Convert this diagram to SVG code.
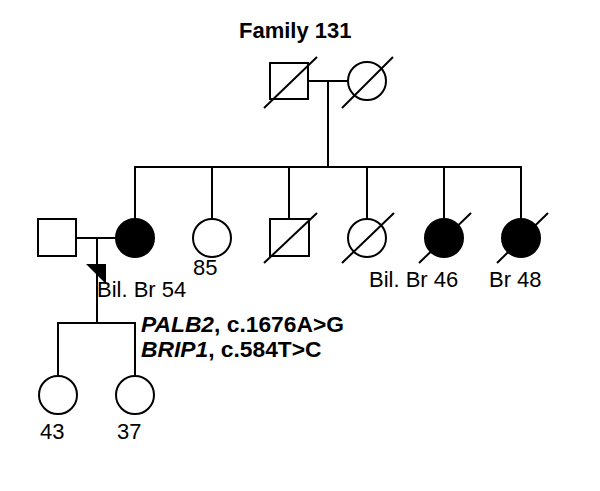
<svg xmlns="http://www.w3.org/2000/svg" width="600" height="491" viewBox="0 0 600 491">
<style>
.s{fill:#fff;stroke:#000;stroke-width:2}
.a{fill:#000;stroke:#000;stroke-width:2}
.l{stroke:#000;stroke-width:2;fill:none}
.t{font-family:"Liberation Sans",Arial,sans-serif;font-size:22px;fill:#000}
.b{font-weight:bold}
.v{font-size:22.8px}
</style>
<rect width="600" height="491" fill="#fff"/>
<text class="t b" x="239" y="38">Family 131</text>
<g id="connectors">
<line class="l" x1="308" y1="81" x2="348" y2="81"/>
<line class="l" x1="328" y1="81" x2="328" y2="167"/>
<line class="l" x1="134" y1="167" x2="522" y2="167"/>
<line class="l" x1="135" y1="167" x2="135" y2="219"/>
<line class="l" x1="212" y1="167" x2="212" y2="219"/>
<line class="l" x1="289" y1="167" x2="289" y2="219"/>
<line class="l" x1="367" y1="167" x2="367" y2="219"/>
<line class="l" x1="444" y1="167" x2="444" y2="219"/>
<line class="l" x1="521" y1="167" x2="521" y2="219"/>
<line class="l" x1="77" y1="238" x2="116" y2="238"/>
<line class="l" x1="97" y1="238" x2="97" y2="323"/>
<line class="l" x1="57" y1="323" x2="136" y2="323"/>
<line class="l" x1="58" y1="323" x2="58" y2="376"/>
<line class="l" x1="135" y1="323" x2="135" y2="376"/>
</g>
<g id="gf">
<rect class="s" x="270" y="63" width="38" height="36"/>
<line class="l" x1="264" y1="108" x2="317" y2="57"/>
</g>
<g id="gm">
<circle class="s" cx="367" cy="81" r="19"/>
<line class="l" x1="342" y1="108" x2="393" y2="57"/>
</g>
<g id="husband">
<rect class="s" x="38" y="219" width="38" height="37"/>
</g>
<g id="proband">
<circle class="a" cx="135" cy="238" r="19"/>
<polygon points="86,264 106,264 106,284" fill="#000"/>
<text class="t" x="97" y="297">Bil. Br 54</text>
</g>
<g id="sib85">
<circle class="s" cx="212" cy="238" r="19"/>
<text class="t" x="193" y="275">85</text>
</g>
<g id="sibm">
<rect class="s" x="270" y="219" width="39" height="37"/>
<line class="l" x1="264" y1="263" x2="317" y2="213"/>
</g>
<g id="sibf">
<circle class="s" cx="367" cy="238" r="19"/>
<line class="l" x1="342" y1="263" x2="394" y2="213"/>
</g>
<g id="sib46">
<circle class="a" cx="444" cy="238" r="19"/>
<line class="l" x1="419" y1="263" x2="471" y2="213"/>
<text class="t" x="369" y="287">Bil. Br 46</text>
</g>
<g id="sib48">
<circle class="a" cx="521" cy="238" r="19"/>
<line class="l" x1="497" y1="263" x2="548" y2="213"/>
<text class="t" x="489" y="287">Br 48</text>
</g>
<g id="variants">
<text class="t b v" x="141" y="332"><tspan font-style="italic">PALB2</tspan>, c.1676A&gt;G</text>
<text class="t b v" x="141" y="357"><tspan font-style="italic">BRIP1</tspan>, c.584T&gt;C</text>
</g>
<g id="d43">
<circle class="s" cx="58" cy="395" r="19"/>
<text class="t" x="40" y="439">43</text>
</g>
<g id="d37">
<circle class="s" cx="135" cy="395" r="19"/>
<text class="t" x="117" y="439">37</text>
</g>
</svg>
